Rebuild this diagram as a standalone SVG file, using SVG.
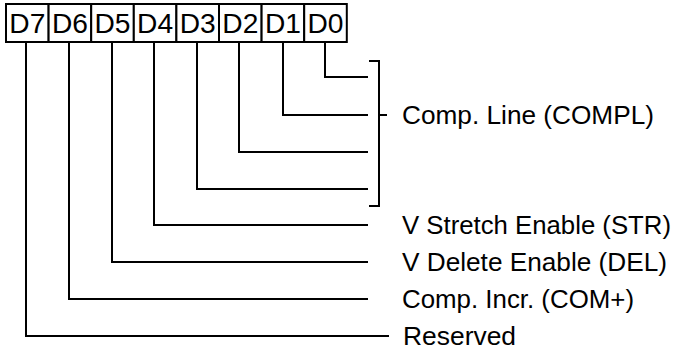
<svg xmlns="http://www.w3.org/2000/svg" width="678" height="351" viewBox="0 0 678 351">
<style>
.box{fill:#fff;stroke:#000;stroke-width:2}
.bt{font-family:"Liberation Sans",Arial,sans-serif;font-size:28px;fill:#000;text-anchor:middle}
.lbl{font-family:"Liberation Sans",Arial,sans-serif;font-size:26px;fill:#000}
.ln{fill:none;stroke:#000;stroke-width:2}
</style>
<rect width="678" height="351" fill="#fff"/>
<g id="register">
<g id="D7"><rect class="box" x="6" y="4" width="42.6" height="38"/><text class="bt" x="27.3" y="32.5" textLength="36" lengthAdjust="spacingAndGlyphs">D7</text></g>
<g id="D6"><rect class="box" x="48.6" y="4" width="42.6" height="38"/><text class="bt" x="69.9" y="32.5" textLength="36" lengthAdjust="spacingAndGlyphs">D6</text></g>
<g id="D5"><rect class="box" x="91.2" y="4" width="42.6" height="38"/><text class="bt" x="112.5" y="32.5" textLength="36" lengthAdjust="spacingAndGlyphs">D5</text></g>
<g id="D4"><rect class="box" x="133.8" y="4" width="42.6" height="38"/><text class="bt" x="155.1" y="32.5" textLength="36" lengthAdjust="spacingAndGlyphs">D4</text></g>
<g id="D3"><rect class="box" x="176.4" y="4" width="42.6" height="38"/><text class="bt" x="197.7" y="32.5" textLength="36" lengthAdjust="spacingAndGlyphs">D3</text></g>
<g id="D2"><rect class="box" x="219" y="4" width="42.6" height="38"/><text class="bt" x="240.3" y="32.5" textLength="36" lengthAdjust="spacingAndGlyphs">D2</text></g>
<g id="D1"><rect class="box" x="261.6" y="4" width="42.6" height="38"/><text class="bt" x="282.9" y="32.5" textLength="36" lengthAdjust="spacingAndGlyphs">D1</text></g>
<g id="D0"><rect class="box" x="304.2" y="4" width="42.6" height="38"/><text class="bt" x="325.5" y="32.5" textLength="36" lengthAdjust="spacingAndGlyphs">D0</text></g>
</g>
<g id="connectors">
<path class="ln" d="M325,43 V77 H368"/>
<path class="ln" d="M283,43 V115 H368"/>
<path class="ln" d="M239,43 V152 H368"/>
<path class="ln" d="M197,43 V189 H368"/>
<path class="ln" d="M154,43 V225 H368"/>
<path class="ln" d="M112,43 V262 H368"/>
<path class="ln" d="M69,43 V299 H368"/>
<path class="ln" d="M26,43 V336 H389"/>
<path class="ln" d="M369,61 H379 V206 H369 M379,115 H387"/>
</g>
<g id="labels">
<text class="lbl" x="402" y="124" textLength="252" lengthAdjust="spacingAndGlyphs">Comp. Line (COMPL)</text>
<text class="lbl" x="402" y="234" textLength="269" lengthAdjust="spacingAndGlyphs">V Stretch Enable (STR)</text>
<text class="lbl" x="402" y="271" textLength="265" lengthAdjust="spacingAndGlyphs">V Delete Enable (DEL)</text>
<text class="lbl" x="402" y="308" textLength="232" lengthAdjust="spacingAndGlyphs">Comp. Incr. (COM+)</text>
<text class="lbl" x="403" y="345" textLength="113" lengthAdjust="spacingAndGlyphs">Reserved</text>
</g>
</svg>
